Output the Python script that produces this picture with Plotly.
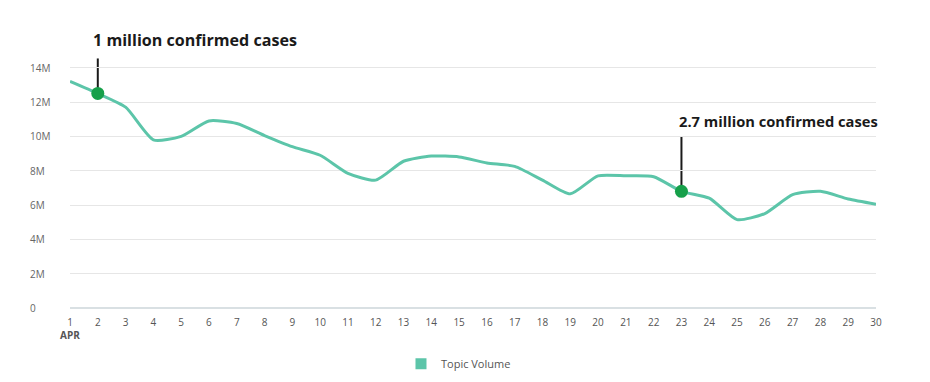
import plotly.graph_objects as go

days = list(range(1, 31))
topic_volume = [13.2, 12.5, 11.7, 9.8, 10.0, 10.9, 10.75, 10.05, 9.4, 8.9,
                7.85, 7.45, 8.55, 8.85, 8.8, 8.45, 8.25, 7.45, 6.65, 7.7,
                7.7, 7.65, 6.8, 6.4, 5.15, 5.5, 6.6, 6.8, 6.35, 6.05]
topic_volume = [v * 1e6 for v in topic_volume]

x_tick_vals = days
x_tick_text = ["1<br><b>APR</b>"] + [str(d) for d in days[1:]]
y_tick_vals = [0, 2e6, 4e6, 6e6, 8e6, 10e6, 12e6, 14e6]
y_tick_text = ["0", "2M", "4M", "6M", "8M", "10M", "12M", "14M"]
y_max = 14.1e6

event_days = [2, 23]
event_labels = ["1 million confirmed cases", "2.7 million confirmed cases"]
event_vals = [topic_volume[d - 1] for d in event_days]

LINE = "#5cc5a9"
DOT = "#16a04a"
FONT = "Open Sans"

fig = go.Figure()
fig.add_trace(go.Scatter(
    x=days, y=topic_volume, mode="lines",
    line=dict(color=LINE, width=3, shape="spline", smoothing=0.6),
    showlegend=False, hoverinfo="skip"))
fig.add_trace(go.Scatter(
    x=event_days, y=event_vals, mode="markers",
    marker=dict(color=DOT, size=13), showlegend=False))
fig.add_trace(go.Scatter(
    x=[None], y=[None], mode="markers", name="Topic Volume",
    marker=dict(color=LINE, size=11, symbol="square")))

line_len = [35, 55]
text_shift = [53, 70]
x_shift = [-7, -4]
text_size = [16.1, 14.7]
for d, v, lab, ll, ts, xs, fs in zip(event_days, event_vals, event_labels,
                                     line_len, text_shift, x_shift, text_size):
    fig.add_shape(type="line", xref="x", yref="paper", x0=d, x1=d,
                  ysizemode="pixel", yanchor=v / y_max, y0=0, y1=ll,
                  line=dict(color="#1a1a1a", width=2), layer="below")
    fig.add_annotation(x=d, y=v, xref="x", yref="y", text=f"<b>{lab}</b>",
                       showarrow=False, xanchor="left", yanchor="middle",
                       xshift=xs, yshift=ts,
                       font=dict(family=FONT, size=fs, color="#1a1a1a"))

for tv, tt in zip(y_tick_vals, y_tick_text):
    fig.add_annotation(x=0, y=tv, xref="paper", yref="y", text=tt,
                       showarrow=False, xanchor="left", yanchor="middle",
                       xshift=-42, font=dict(family=FONT, size=10, color="#666"))

fig.update_layout(
    width=930, height=382,
    margin=dict(l=62, r=62, t=58, b=80),
    paper_bgcolor="white", plot_bgcolor="white",
    font=dict(family=FONT, size=10, color="#555"),
    xaxis=dict(range=[1, 30], tickvals=x_tick_vals, ticktext=x_tick_text,
               showgrid=False, zeroline=False, showline=False,
               ticklabelstandoff=7,
               tickfont=dict(size=10, color="#555")),
    yaxis=dict(range=[0, y_max], tickvals=y_tick_vals, showticklabels=False,
               showgrid=True, gridcolor="#e6e6e6", gridwidth=1,
               zeroline=True, zerolinecolor="#d9e0e3", zerolinewidth=1.5,
               showline=False),
    legend=dict(orientation="h", x=0.482, xanchor="center", y=-0.23, yanchor="middle",
                itemwidth=30, font=dict(size=11, color="#555")),
)
fig.write_html("out.html")
